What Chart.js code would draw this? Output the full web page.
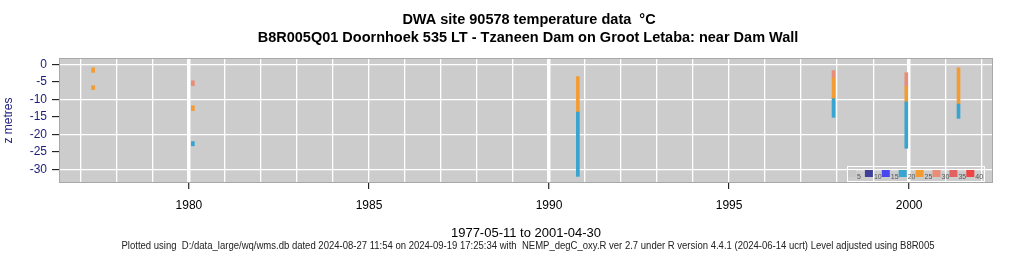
<!DOCTYPE html>
<html lang="en">
<head>
<meta charset="UTF-8">
<title>DWA site 90578 temperature data</title>
<script src="https://cdn.jsdelivr.net/npm/chart.js@4.4.3/dist/chart.umd.min.js"></script>
<style>
  body { margin: 0; background: #fff; }
  #wrap { width: 1024px; height: 256px; }
</style>
</head>
<body>
<div id="wrap"><canvas id="chart"></canvas></div>
<script>
// profile segments: sample date (decimal year), top and bottom depth (m), temperature (degC)
const segYear   = [1977.34, 1977.34, 1980.11, 1980.11, 1980.11, 1990.80, 1990.80, 1997.90, 1997.90, 1997.90, 1999.92, 1999.92, 1999.92, 2001.37, 2001.37];
const segTop    = [-1.0, -6.1, -4.7, -11.8, -22.0, -3.5, -13.6, -1.8, -3.9, -9.8, -2.4, -6.3, -10.7, -1.0, -11.3];
const segBottom = [-2.3, -7.2, -6.1, -13.2, -23.2, -13.6, -31.9, -3.9, -9.8, -15.1, -6.3, -10.7, -23.9, -11.3, -15.4];
const segTemp   = [26, 26, 30, 26, 21, 26, 21, 31, 26, 21, 30, 26, 21, 26, 21];

// colour key
const legendTemps  = [5, 10, 15, 20, 25, 30, 35, 40];
const legendColors = ['#c6c6c6', '#40409a', '#4848ee', '#38a4d0', '#f39c34', '#e98c78', '#e26262', '#f04444'];

const xTickYears = [1977, 1978, 1979, 1980, 1981, 1982, 1983, 1984, 1985, 1986, 1987, 1988, 1989, 1990,
                    1991, 1992, 1993, 1994, 1995, 1996, 1997, 1998, 1999, 2000, 2001, 2002];
const yTickValues = [0, -5, -10, -15, -20, -25, -30];

const titleLines = ['DWA site 90578 temperature data  \u00B0C',
                    'B8R005Q01 Doornhoek 535 LT - Tzaneen Dam on Groot Letaba: near Dam Wall'];
const dateRange = '1977-05-11 to 2001-04-30';
const footer = 'Plotted using  D:/data_large/wq/wms.db dated 2024-08-27 11:54 on 2024-09-19 17:25:34 with  NEMP_degC_oxy.R ver 2.7 under R version 4.4.1 (2024-06-14 ucrt) Level adjusted using B8R005';

function tempColor(t) {
  let i = Math.floor(t / 5) - 1;
  i = Math.max(0, Math.min(legendColors.length - 1, i));
  return legendColors[i];
}

const decor = {
  id: 'decor',
  beforeDraw(chart) {
    const { ctx, chartArea: a } = chart;
    ctx.save();
    ctx.fillStyle = '#cccccc';
    ctx.fillRect(a.left, a.top, a.right - a.left, a.bottom - a.top);
    ctx.restore();
  },
  afterDraw(chart) {
    const { ctx, chartArea: a } = chart;
    const cx = (a.left + a.right) / 2;
    ctx.save();
    ctx.strokeStyle = '#a8a8a8';
    ctx.lineWidth = 1;
    ctx.strokeRect(a.left - 0.5, a.top - 0.5, a.right - a.left + 1, a.bottom - a.top + 1);

    // titles
    ctx.fillStyle = '#000';
    ctx.textAlign = 'center';
    ctx.textBaseline = 'middle';
    ctx.font = 'bold 14.5px "Liberation Sans", Arial, sans-serif';
    ctx.fillText(titleLines[0], cx + 3, 20);
    ctx.fillText(titleLines[1], cx + 2, 38);

    ctx.font = '13px "Liberation Sans", Arial, sans-serif';
    ctx.fillText(dateRange, cx, 233);
    ctx.fillStyle = '#222';
    ctx.font = '10px "Liberation Sans", Arial, sans-serif';
    ctx.fillText(footer, 528, 246, 813);

    // y title
    ctx.save();
    ctx.translate(9, (a.top + a.bottom) / 2);
    ctx.rotate(-Math.PI / 2);
    ctx.fillStyle = '#1c1c7a';
    ctx.font = '12px "Liberation Sans", Arial, sans-serif';
    ctx.fillText('z metres', 0, 0);
    ctx.restore();

    // colour key
    ctx.strokeStyle = '#ffffff';
    ctx.strokeRect(847.5, 166.5, 137, 15);
    ctx.font = '7px "Liberation Sans", Arial, sans-serif';
    ctx.textAlign = 'left';
    ctx.textBaseline = 'alphabetic';
    legendTemps.forEach((t, i) => {
      const x = 848 + i * 16.9;
      ctx.fillStyle = legendColors[i];
      ctx.fillRect(x, 170, 8, 7);
      ctx.fillStyle = '#555';
      ctx.fillText(String(t), x + 9, 179);
    });
    ctx.restore();
  }
};

const ctx = document.getElementById('chart');
new Chart(ctx, {
  type: 'bar',
  data: {
    datasets: [{
      data: segYear.map((x, i) => ({ x: x, y: [segTop[i], segBottom[i]] })),
      backgroundColor: segTemp.map(tempColor),
      borderWidth: 0,
      barThickness: 3
    }]
  },
  options: {
    responsive: true,
    maintainAspectRatio: false,
    animation: false,
    layout: { padding: { top: 59, right: 32, bottom: 0, left: 0 } },
    plugins: { legend: { display: false }, tooltip: { enabled: false } },
    scales: {
      x: {
        type: 'linear',
        offset: false,
        min: 1976.42,
        max: 2002.3,
        afterFit: axis => { axis.height = 74; },
        afterBuildTicks: axis => { axis.ticks = xTickYears.map(v => ({ value: v })); },
        border: { display: false },
        grid: {
          offset: false,
          color: '#ffffff',
          lineWidth: c => (c.tick && c.tick.value % 10 === 0) ? 3.5 : 1.3,
          tickColor: c => (c.tick && c.tick.value % 5 === 0) ? '#000' : 'rgba(0,0,0,0)',
          tickWidth: 1,
          tickLength: 7
        },
        ticks: {
          autoSkip: false,
          maxRotation: 0,
          padding: 9,
          color: '#000',
          font: { family: '"Liberation Sans", Arial, sans-serif', size: 12 },
          callback: v => (v % 5 === 0) ? String(v) : ''
        }
      },
      y: {
        min: -33.5,
        max: 1.5,
        afterFit: axis => { axis.width = 60; },
        afterBuildTicks: axis => { axis.ticks = yTickValues.map(v => ({ value: v })); },
        border: { display: false },
        grid: {
          color: c => (c.tick && c.tick.value % 10 === 0) ? '#ffffff' : 'rgba(0,0,0,0)',
          lineWidth: 1.3,
          tickColor: '#000',
          tickWidth: 1,
          tickLength: 8
        },
        ticks: {
          padding: 5,
          color: '#1c1c7a',
          font: { family: '"Liberation Sans", Arial, sans-serif', size: 12 },
          callback: v => String(v)
        }
      }
    }
  },
  plugins: [decor]
});
</script>
</body>
</html>
